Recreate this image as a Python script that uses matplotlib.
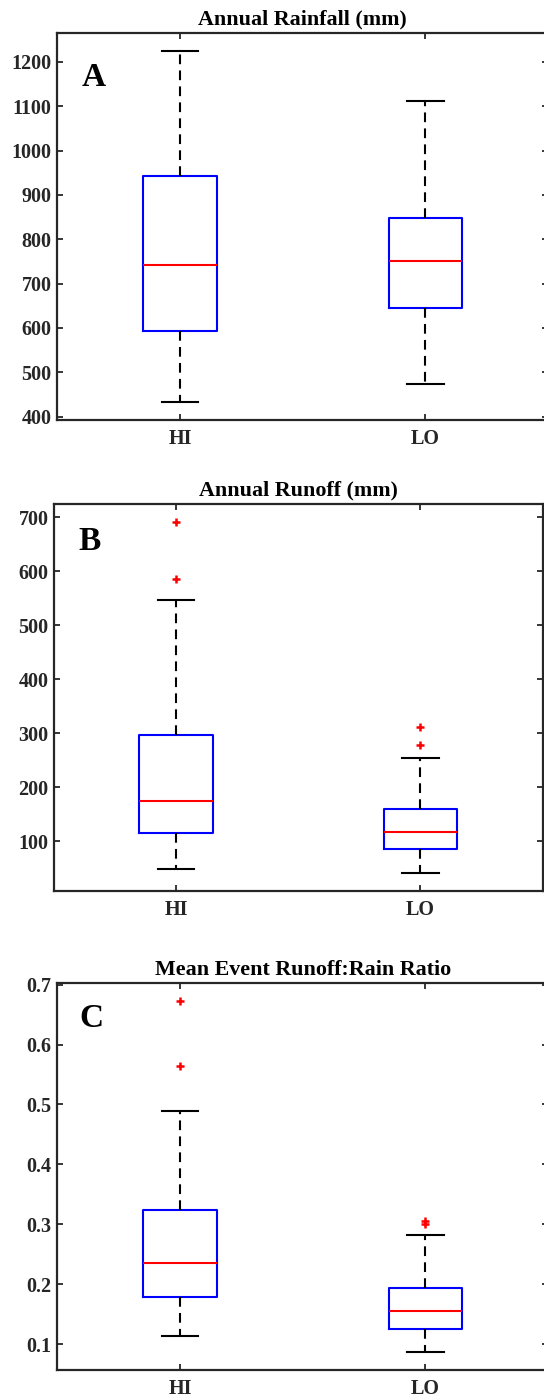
import matplotlib
matplotlib.use( 'Agg' )
from matplotlib import pyplot as plt

plt.rcParams[ 'font.family' ] = [ 'Liberation Serif', 'DejaVu Serif' ]
plt.rcParams[ 'font.weight' ] = 'bold'
plt.rcParams[ 'lines.scale_dashes' ] = False

groups = [ 'HI', 'LO' ]

# values (whisker low, Q1, median, Q3, whisker high, outliers)
rainLow = [ 432, 473 ]
rainQ1 = [ 592, 646 ]
rainMedian = [ 742, 750 ]
rainQ3 = [ 942, 849 ]
rainHigh = [ 1225, 1113 ]
rainOutliers = [ [], [] ]

runoffLow = [ 49, 41 ]
runoffQ1 = [ 115, 86 ]
runoffMedian = [ 174, 118 ]
runoffQ3 = [ 296, 160 ]
runoffHigh = [ 546, 255 ]
runoffOutliers = [ [ 692, 586 ], [ 312, 279 ] ]

ratioLow = [ 0.113, 0.086 ]
ratioQ1 = [ 0.179, 0.125 ]
ratioMedian = [ 0.235, 0.156 ]
ratioQ3 = [ 0.323, 0.193 ]
ratioHigh = [ 0.489, 0.282 ]
ratioOutliers = [ [ 0.673, 0.564 ], [ 0.306, 0.300 ] ]

rainTicks = [ 400, 500, 600, 700, 800, 900, 1000, 1100, 1200 ]
runoffTicks = [ 100, 200, 300, 400, 500, 600, 700 ]
ratioTicks = [ 0.1, 0.2, 0.3, 0.4, 0.5, 0.6, 0.7 ]

WIDTH, HEIGHT = 544, 1399
DARK = ( 0.15, 0.15, 0.15 )

def pixelAxes( figure, left, top, right, bottom ):
    return figure.add_axes( [ left / WIDTH, 1 - bottom / HEIGHT, ( right - left ) / WIDTH, ( bottom - top ) / HEIGHT ] )

def boxPanel( axes, low, q1, median, q3, high, outliers, ticks, title, letter, letterXY, tickFormat ):
    stats = []
    for i, name in enumerate( groups ):
        stats.append( dict( label = name, whislo = low[ i ], q1 = q1[ i ], med = median[ i ],
                            q3 = q3[ i ], whishi = high[ i ], fliers = outliers[ i ] ) )
    axes.bxp( stats, positions = [ 1, 2 ], widths = 0.3, capwidths = 0.15, showfliers = True,
              boxprops = dict( color = 'blue', linewidth = 1.5 ),
              medianprops = dict( color = 'red', linewidth = 1.5 ),
              whiskerprops = dict( color = 'black', linewidth = 1.5, linestyle = ( 0, ( 7, 4.5 ) ) ),
              capprops = dict( color = 'black', linewidth = 1.5 ),
              flierprops = dict( marker = '+', markeredgecolor = 'red', markersize = 6, markeredgewidth = 1.8 ) )
    allValues = low + high + [ v for group in outliers for v in group ]
    spread = max( allValues ) - min( allValues )
    axes.set_ylim( min( allValues ) - 0.05 * spread, max( allValues ) + 0.05 * spread )
    axes.set_xlim( 0.5, 2.5 )
    axes.set_yticks( ticks )
    axes.set_yticklabels( [ tickFormat.format( t ) for t in ticks ] )
    axes.set_xticks( [ 1, 2 ] )
    axes.set_xticklabels( groups )
    axes.tick_params( direction = 'in', length = 4, width = 1.3, color = DARK, labelcolor = DARK,
                      labelsize = 14.5, top = True, right = True )
    axes.tick_params( axis = 'y', pad = 4 )
    axes.tick_params( axis = 'x', pad = 6.5 )
    for spine in axes.spines.values():
        spine.set_linewidth( 1.6 )
        spine.set_color( DARK )
    axes.set_title( title, fontsize = 15.8, fontweight = 'bold', pad = 6 )
    axes.text( letterXY[ 0 ], letterXY[ 1 ], letter, transform = axes.transAxes, fontsize = 24,
               fontweight = 'bold', ha = 'left', va = 'top' )

def main():
    figure = plt.figure( figsize = ( WIDTH / 100, HEIGHT / 100 ), dpi = 100 )
    axesA = pixelAxes( figure, 57.3, 33.3, 548, 420 )
    axesB = pixelAxes( figure, 54, 504, 542.5, 890.7 )
    axesC = pixelAxes( figure, 57.3, 983.3, 548, 1370 )
    boxPanel( axesA, rainLow, rainQ1, rainMedian, rainQ3, rainHigh, rainOutliers, rainTicks,
              'Annual Rainfall (mm)', 'A', ( 0.05, 0.925 ), '{:d}' )
    boxPanel( axesB, runoffLow, runoffQ1, runoffMedian, runoffQ3, runoffHigh, runoffOutliers, runoffTicks,
              'Annual Runoff (mm)', 'B', ( 0.051, 0.942 ), '{:d}' )
    boxPanel( axesC, ratioLow, ratioQ1, ratioMedian, ratioQ3, ratioHigh, ratioOutliers, ratioTicks,
              'Mean Event Runoff:Rain Ratio', 'C', ( 0.044, 0.948 ), '{:.1f}' )
    figure.savefig( 'out.png', dpi = 100 )

main()
